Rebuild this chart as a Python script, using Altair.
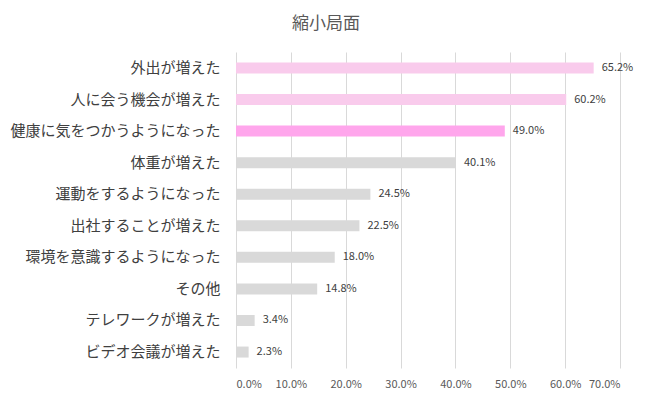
import altair as alt
import pandas as pd

categories = ["外出が増えた", "人に会う機会が増えた", "健康に気をつかうようになった", "体重が増えた",
              "運動をするようになった", "出社することが増えた", "環境を意識するようになった", "その他",
              "テレワークが増えた", "ビデオ会議が増えた"]
values = [65.2, 60.2, 49.0, 40.1, 24.5, 22.5, 18.0, 14.8, 3.4, 2.3]
colors = ["#F9CBEC", "#F9CBEC", "#FFA6EC", "#D9D9D9", "#D9D9D9", "#D9D9D9", "#D9D9D9",
          "#D9D9D9", "#D9D9D9", "#D9D9D9"]

df = pd.DataFrame({"cat": categories, "val": values, "color": colors,
                   "label": [f"{v:.1f}%" for v in values]})

font = "Noto Sans CJK JP"

y = alt.Y("cat:N", sort=categories, title=None,
          scale=alt.Scale(paddingInner=0.65, paddingOuter=0.33),
          axis=alt.Axis(ticks=False, domain=False, labelFontSize=15, labelColor="#404040",
                        labelFont=font, labelPadding=16, grid=False, labelLimit=400))
x = alt.X("val:Q", title=None, scale=alt.Scale(domain=[0, 70], nice=False),
          axis=alt.Axis(values=[0, 10, 20, 30, 40, 50, 60, 70], labelExpr="format(datum.value, '.1f') + '%'",
                        grid=True, gridColor="#D9D9D9", domain=False, ticks=False,
                        labelFontSize=11, labelColor="#595959", labelFont=font, labelPadding=10))

bars = alt.Chart(df).mark_bar(size=11).encode(x=x, y=y, color=alt.Color("color:N", scale=None))
text = alt.Chart(df).mark_text(align="left", dx=8, fontSize=11, color="#404040", font=font).encode(
    x="val:Q", y=alt.Y("cat:N", sort=categories), text="label:N")

chart = (bars + text).properties(
    width=384, height=316,
    title=alt.TitleParams("縮小局面", fontSize=17, color="#595959", font=font, fontWeight="normal",
                          anchor="middle", offset=19, dx=-102),
    autosize=alt.AutoSizeParams(type="none"),
    padding={"left": 228, "top": 44, "right": 20, "bottom": 27},
).configure_view(stroke=None)

chart.save("out.html", embed_options={"renderer": "svg", "actions": False})
